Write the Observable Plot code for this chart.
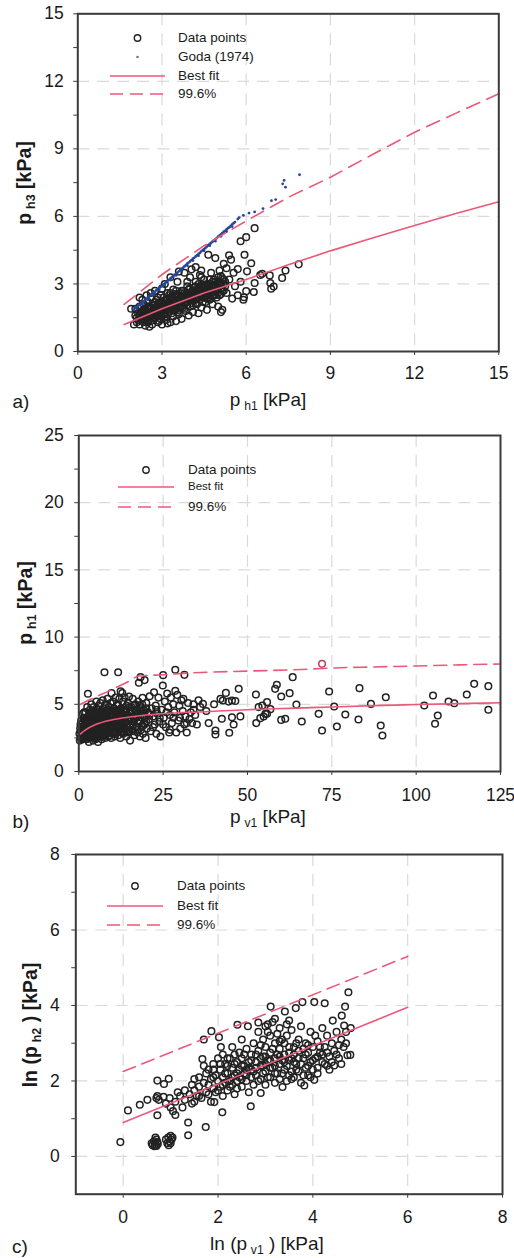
<!DOCTYPE html>
<html><head><meta charset="utf-8">
<script src="https://cdn.jsdelivr.net/npm/d3@7"></script>
<script src="https://cdn.jsdelivr.net/npm/@observablehq/plot@0.6"></script>
<style>
body{margin:0;background:#fff;font-family:"Liberation Sans",Arial,sans-serif;}
#page{position:relative;width:514px;height:1258px;overflow:hidden;background:#fff;}
.abs{position:absolute;white-space:nowrap;color:#1a1a1a;line-height:1;}
.rot{transform:translate(-50%,-50%) rotate(-90deg);font-weight:bold;font-size:19.5px;}
.xt{transform:translate(-50%,-50%);font-size:19px;}
.lt{transform:translateY(-50%);font-size:13.5px;}
sub{font-size:0.64em;vertical-align:-0.3em;}
</style></head><body><div id="page"></div>
<script>
// ---------- Panel a: p_h3 vs p_h1 ----------
const aXTicks = [0, 3, 6, 9, 12, 15];
const aYTicks = [0, 3, 6, 9, 12, 15];
const aYMinor = [1.5, 4.5, 7.5, 10.5, 13.5];
const aGrid = [3, 6, 9, 12];
const aData = [
[1.9,1.9],[2.0,1.2],[2.05,1.9],[2.1,1.5],[2.1,1.3],[2.15,1.7],[2.2,2.0],[2.2,1.2],[2.25,1.45],[2.05,1.6],
[2.3,2.3],[2.3,1.8],[2.3,1.35],[2.35,1.6],[2.35,2.1],[2.4,1.15],[2.4,1.9],[2.45,1.5],[2.45,2.5],[2.5,1.7],
[2.5,2.2],[2.5,1.3],[2.55,1.95],[2.55,1.1],[2.6,1.55],[2.6,2.4],[2.65,1.8],[2.65,1.2],[2.7,2.05],[2.7,1.4],
[2.75,2.7],[2.75,1.65],[2.8,1.9],[2.8,2.3],[2.85,1.3],[2.85,1.55],[2.9,2.15],[2.9,1.75],[2.95,2.5],[2.95,1.45],
[3.0,2.0],[3.0,1.2],[3.0,2.8],[3.05,1.65],[3.1,2.25],[3.1,1.9],[3.1,3.0],[3.15,1.4],[3.2,2.1],[3.2,2.6],
[3.25,1.75],[3.3,2.4],[3.3,1.3],[3.3,3.3],[3.35,2.0],[3.4,1.55],[3.4,2.75],[3.45,2.2],[3.5,1.35],[3.5,1.9],
[3.5,2.5],[3.55,3.1],[3.6,2.3],[3.6,1.65],[3.65,2.0],[3.7,2.7],[3.7,1.45],[3.75,2.45],[3.8,3.5],[3.8,2.15],
[3.85,1.8],[3.9,2.9],[3.9,2.4],[3.95,1.6],[4.0,2.6],[4.0,2.0],[4.0,3.3],[4.05,3.65],[4.1,2.3],[4.1,1.75],
[4.15,2.85],[4.2,2.5],[4.2,3.1],[4.25,2.1],[4.3,1.7],[4.3,2.7],[4.35,3.4],[4.4,2.4],[4.4,1.95],[4.45,2.95],
[4.5,2.6],[4.5,3.2],[4.55,2.2],[4.6,2.8],[4.6,1.85],[4.65,4.3],[4.7,2.5],[4.7,3.0],[4.75,3.5],[4.8,2.7],
[4.8,2.1],[4.85,3.2],[4.9,2.9],[4.9,4.15],[4.95,2.4],[5.0,3.1],[5.0,2.0],[5.05,3.6],[5.1,2.8],[5.1,3.35],
[5.15,1.85],[5.2,3.0],[5.2,3.9],[5.3,2.6],[5.3,3.7],[5.39,4.27],[5.46,4.08],[5.4,3.2],[5.5,2.35],[5.55,3.5],
[5.6,2.9],[5.7,3.66],[5.7,2.5],[5.8,4.9],[5.8,3.1],[5.9,2.3],[5.92,2.41],[6.0,5.08],[6.0,2.68],[6.03,3.56],
[6.18,3.92],[6.3,5.48],[6.3,3.04],[6.27,2.64],[6.5,3.4],[6.57,3.45],[6.84,3.38],[6.86,3.04],[6.98,2.89],[6.89,2.79],
[7.28,3.27],[7.4,3.6],[7.87,3.87],[5.94,4.3],[4.2,3.75],
[2.2,1.6],[2.3,1.55],[2.4,1.7],[2.4,1.4],[2.5,1.5],[2.5,1.9],[2.6,1.7],[2.6,1.95],[2.7,1.6],[2.7,1.8],
[2.8,1.7],[2.8,2.0],[2.9,1.9],[2.9,1.6],[3.0,1.8],[3.0,2.2],[3.1,1.7],[3.1,2.05],[3.2,1.9],[3.2,2.3],
[3.3,2.0],[3.3,2.2],[3.4,1.9],[3.4,2.35],[3.5,2.1],[3.5,2.3],[3.6,2.0],[3.6,2.5],[3.7,2.2],[3.7,2.4],
[3.8,2.3],[3.8,2.6],[3.9,2.2],[3.9,2.6],[4.0,2.4],[4.0,2.8],[4.1,2.5],[4.1,2.7],[4.2,2.3],[4.2,2.9],
[4.3,2.5],[4.3,3.0],[4.4,2.7],[4.4,2.9],[4.5,2.8],[4.5,2.4],[4.6,2.6],[4.6,3.0],[4.7,2.75],[4.7,3.2],
[4.8,2.9],[4.8,3.1],[4.9,2.7],[4.9,3.1],[5.0,2.8],[5.0,3.3],[5.1,3.0],[5.2,3.2],[5.2,2.7],[2.15,1.4],
[2.25,1.7],[2.35,1.3],[2.45,1.8],[2.55,1.6],[2.65,2.1],[2.75,1.5],[2.85,2.1],[2.95,1.7],[3.05,2.4],[3.15,1.85],
[3.25,2.15],[3.35,1.7],[3.45,2.55],[3.55,1.75],[3.65,2.6],[3.75,1.95],[3.85,2.5],[3.95,2.3],[4.05,2.15],[4.15,2.45],
[4.25,2.75],[4.35,2.55],[4.45,2.2],[4.55,2.9],[4.65,2.4],[4.75,2.85],[4.85,2.55],[4.95,3.0],[5.05,2.5],[5.15,3.25],
[5.25,2.9],[2.2,2.4],[2.6,2.6],[3.6,3.55],[4.4,3.6],[5.1,1.75],[3.2,1.25],[2.9,1.35],
[2.3,1.45],[2.35,1.85],[2.45,1.6],[2.55,1.75],[2.6,1.35],[2.65,1.65],[2.75,1.85],[2.75,2.2],[2.85,1.8],[2.85,2.4],
[2.95,1.95],[3.0,1.55],[3.05,2.1],[3.1,1.55],[3.15,2.3],[3.2,1.65],[3.25,2.5],[3.3,1.85],[3.35,2.45],[3.4,2.1],
[3.45,1.8],[3.5,2.7],[3.55,2.4],[3.6,1.85],[3.65,2.25],[3.7,2.0],[3.75,2.7],[3.8,1.9],[3.85,2.25],[3.9,2.05],
[3.95,2.75],[4.0,2.25],[4.05,2.45],[4.1,2.05],[4.15,2.65],[4.2,2.15],[4.25,2.35],[4.3,2.85],[4.35,2.3],[4.4,2.55],
[4.45,2.65],[4.5,2.95],[4.55,2.5],[4.6,2.35],[4.65,2.85],[4.7,2.3],[4.75,2.65],[4.8,2.45],[4.85,2.95],[4.9,2.5],
[4.95,2.75],[5.0,2.6],[5.05,2.95],[5.1,2.55],[5.15,2.7],[5.25,3.1],[3.3,2.6],[3.9,3.1],[4.4,3.3],[2.5,2.0]
];
const aGoda = [
[2.0,1.86],[2.05,1.95],[2.1,1.98],[2.15,2.02],[2.2,2.08],[2.25,2.12],[2.3,2.2],[2.35,2.22],[2.4,2.3],[2.45,2.35],
[2.5,2.38],[2.55,2.45],[2.6,2.5],[2.65,2.55],[2.7,2.6],[2.75,2.65],[2.8,2.72],[2.85,2.76],[2.9,2.82],[2.95,2.86],
[3.0,2.92],[3.05,2.98],[3.1,3.02],[3.15,3.08],[3.2,3.14],[3.25,3.18],[3.3,3.25],[3.35,3.3],[3.4,3.35],[3.45,3.4],
[3.5,3.46],[3.55,3.5],[3.6,3.56],[3.65,3.62],[3.7,3.68],[3.75,3.72],[3.8,3.78],[3.85,3.84],[3.9,3.9],[3.95,3.95],
[4.0,4.0],[4.05,4.06],[4.1,4.12],[4.15,4.16],[4.2,4.22],[4.25,4.28],[4.3,4.33],[4.35,4.38],[4.4,4.45],[4.45,4.5],
[4.5,4.55],[4.55,4.6],[4.6,4.66],[4.65,4.72],[4.7,4.78],[4.75,4.82],[4.8,4.88],[4.85,4.93],[4.9,4.98],[4.95,5.04],
[5.0,5.1],[5.05,5.15],[5.1,5.2],[5.15,5.26],[5.2,5.32],[5.25,5.36],[5.3,5.42],[5.35,5.48],[5.4,5.52],[5.45,5.58],
[5.5,5.64],[5.55,5.7],[5.6,5.75],[5.7,5.88],[5.75,5.95],[5.9,6.05],[6.1,6.15],[6.3,6.2],[6.6,6.35],[6.9,6.7],
[7.05,6.75],[7.3,7.45],[7.35,7.6],[7.4,7.3],[7.9,7.85],
[2.1,1.9],[2.3,2.1],[2.5,2.3],[2.7,2.52],[2.9,2.75],[3.1,2.95],[3.3,3.18],[3.5,3.38],[3.7,3.6],[3.9,3.82],
[4.1,4.04],[4.3,4.25],[4.5,4.47],[4.7,4.7],[4.9,4.9],[5.1,5.12],[5.3,5.33],[5.5,5.55]
];
const aFitX = [1.65, 3, 4.5, 6, 7.5, 9, 10.5, 12, 13.5, 15];
const aFitY = [1.2, 1.9, 2.6, 3.2, 3.85, 4.47, 5.04, 5.6, 6.14, 6.65];
const aUpX = [1.65, 3, 4.5, 6, 7.5, 9, 10.5, 12, 13.5, 15];
const aUpY = [2.09, 3.42, 4.7, 5.8, 6.85, 7.74, 8.75, 9.74, 10.6, 11.45];
const aLegend = ["Data points", "Goda (1974)", "Best fit", "99.6%"];

// ---------- Panel b: p_h1 vs p_v1 ----------
const bXTicks = [0, 25, 50, 75, 100, 125];
const bYTicks = [0, 5, 10, 15, 20, 25];
const bYMinor = [2.5, 7.5, 12.5, 17.5, 22.5];
const bXGrid = [25, 50, 75, 100];
const bYGrid = [5, 10, 15, 20];
const bData = [
[0.3,2.3],[0.5,2.5],[0.6,3.0],[0.8,2.8],[1.0,3.3],[1.0,2.4],[1.2,3.6],[1.4,2.9],[1.5,4.0],[1.6,3.2],
[1.8,2.6],[1.9,3.5],[2.0,4.4],[2.0,3.0],[2.2,3.8],[2.3,2.4],[2.4,3.3],[2.5,4.8],[2.6,3.6],[2.7,5.78],
[2.8,2.9],[2.9,4.1],[3.0,3.4],[3.0,2.2],[3.2,3.9],[3.3,4.6],[3.4,3.1],[3.5,2.6],[3.6,3.7],[3.7,5.0],
[3.8,4.3],[3.9,2.8],[4.0,3.5],[4.1,4.0],[4.2,2.3],[4.3,3.2],[4.4,4.8],[4.5,3.8],[4.6,2.9],[4.7,4.4],
[4.8,3.4],[4.9,2.5],[5.0,4.1],[5.1,3.0],[5.2,5.2],[5.3,3.6],[5.4,2.7],[5.5,4.6],[5.6,3.3],[5.7,2.2],
[5.8,3.9],[5.9,4.9],[6.0,3.1],[6.1,2.6],[6.2,4.3],[6.3,3.5],[6.4,5.1],[6.5,2.9],[6.6,3.8],[6.7,4.5],
[6.8,2.4],[6.9,3.3],[7.0,4.0],[7.1,5.3],[7.2,3.0],[7.3,2.7],[7.4,4.7],[7.5,3.6],[7.61,7.39],[7.7,4.2],
[7.8,2.5],[7.9,3.2],[8.0,5.0],[8.1,3.8],[8.2,2.8],[8.3,4.4],[8.4,3.4],[8.5,5.4],[8.6,3.0],[8.7,4.0],
[8.8,2.6],[8.9,4.8],[9.0,3.6],[9.1,3.1],[9.2,4.3],[9.3,2.9],[9.4,5.1],[9.5,3.8],[9.7,5.83],[9.6,2.5],
[9.8,4.5],[9.9,3.3],[10.0,4.1],[10.1,2.8],[10.2,5.2],[10.3,3.5],[10.4,4.7],[10.5,3.0],[10.6,3.9],[10.7,2.6],
[10.8,4.4],[10.9,5.5],[11.0,3.4],[11.1,4.2],[11.2,2.9],[11.3,4.9],[11.4,3.7],[11.66,7.39],[11.5,3.2],[11.6,5.0],
[11.7,2.7],[11.8,4.5],[11.9,3.9],[12.0,5.4],[12.1,3.3],[12.2,4.1],[12.4,5.97],[12.3,2.5],[12.5,4.7],[12.6,3.6],
[12.7,3.0],[12.9,5.83],[12.8,4.3],[13.0,3.8],[13.1,5.2],[13.2,2.8],[13.3,4.6],[13.4,3.4],[13.5,4.0],[13.6,5.5],
[13.7,3.1],[13.8,4.4],[14.0,3.7],[14.1,2.6],[14.2,4.9],[14.4,3.3],[14.5,4.2],[14.6,5.1],[14.7,2.9],[14.9,5.58],
[15.0,3.9],[15.1,4.5],[15.2,2.3],[15.4,3.5],[15.6,4.8],[15.8,3.1],[16.0,5.4],[16.1,4.1],[16.3,3.7],[16.5,2.7],
[16.6,4.6],[16.8,5.0],[17.0,3.3],[17.2,4.3],[17.4,2.9],[17.6,5.2],[17.8,6.6],[17.9,3.8],[18.0,4.9],[18.3,7.02],
[18.1,2.6],[18.4,4.2],[18.6,3.4],[18.8,5.0],[18.9,5.48],[19.0,2.8],[19.2,4.6],[19.4,3.6],[19.5,6.8],[19.6,4.0],
[19.8,2.5],[20.0,5.1],[20.2,3.2],[20.5,4.4],[20.8,3.9],[21.0,5.6],[21.3,3.0],[21.6,4.7],[22.0,4.1],[22.3,5.9],
[22.5,3.5],[22.8,4.9],[23.0,2.8],[23.3,4.3],[23.6,5.5],[23.9,3.7],[24.2,2.6],[24.5,4.6],[24.9,6.4],[25.0,7.17],
[25.2,4.0],[25.5,5.2],[25.8,3.3],[26.2,5.8],[26.5,4.8],[26.8,2.9],[27.0,4.2],[27.3,5.5],[27.6,3.6],[28.0,5.0],
[28.3,4.4],[28.6,7.57],[28.6,6.0],[28.9,2.9],[29.2,5.7],[29.5,3.8],[29.8,4.9],[30.1,3.2],[30.4,5.3],[30.8,4.5],
[31.0,5.4],[31.3,7.19],[31.3,3.5],[31.6,4.1],[32.0,2.9],[32.4,5.1],[32.8,3.9],[33.2,4.4],[33.6,3.6],[34.0,5.0],
[34.5,4.2],[35.0,3.5],[35.5,5.3],
[36,4.8],[36.8,5.03],[38.5,3.6],[37.8,4.5],[40.1,5.0],[40.5,3.05],[40.5,2.75],[42.4,3.92],[42,5.4],[42.7,5.28],
[43.6,5.85],[44.4,5.2],[45.4,5.28],[45.9,3.5],[44.6,2.88],[45.4,4.04],[46.4,5.25],[47.4,6.15],[47.9,4.1],[52.5,5.73],
[52.6,3.6],[53.3,4.79],[53.8,3.97],[54.4,4.91],[54.8,4.09],[55.3,4.29],[55.8,5.16],[55.8,4.3],[56.8,4.64],[58.2,6.15],
[58.7,6.45],[60,5.58],[60,3.84],[61.2,3.92],[62.5,5.83],[63.4,7.02],[64.5,4.99],[66.1,3.72],[71.1,4.29],[72.1,3.05],
[74.2,5.95],[75.7,4.84],[76.5,3.35],[79,4.24],[82.9,3.87],[83.2,6.2],[86.6,5.03],[89.5,3.42],[90,2.68],[91,5.53],
[102.4,4.91],[105,5.65],[105.6,3.55],[106.4,4.17],[109.6,5.21],[111.3,5.08],[115,5.73],[117.2,6.52],[121.4,6.35],[121.4,4.59],
[0.5,3.5],[1.0,2.8],[1.2,4.3],[1.5,2.5],[1.7,3.8],[2.1,3.2],[2.3,4.0],[2.6,2.7],[2.8,3.6],[3.1,4.4],
[3.3,2.6],[3.5,3.3],[3.8,3.0],[4.0,4.5],[4.2,3.7],[4.5,2.6],[4.7,3.6],[5.0,3.3],[5.3,4.3],[5.5,2.9],
[5.8,3.5],[6.0,4.6],[6.3,2.8],[6.5,4.1],[6.8,3.6],[7.0,2.6],[7.3,3.9],[7.6,3.3],[8.0,4.3],[8.3,2.9],
[8.6,3.7],[9.0,4.2],[9.4,3.4],[9.8,2.9],[10.2,3.8],[10.6,4.5],[11.0,2.8],[11.4,4.3],[11.8,3.5],[12.2,4.6],
[12.6,2.9],[13.0,4.3],[13.5,3.2],[14.0,4.6],[14.5,3.8],[15.0,3.0],[15.5,4.3],[16.0,3.4],[16.5,4.9],[17.0,4.0],
[17.5,3.6],[18.0,4.5],[18.5,3.1],[19.0,4.2],[19.5,3.5],[20.0,4.7],[2.0,2.7],[3.0,3.7],[4.0,3.1],[5.0,2.4],
[6.0,3.4],[7.0,4.4],[8.0,3.5],[9.0,2.7],[10.0,3.5],[11.0,4.0],[12.0,3.7],[13.0,3.5],[14.0,3.0],[15.0,4.8],
[0.2,2.8],[0.4,3.2],[0.7,3.8],[0.9,2.6],[1.1,3.0],[1.3,2.4],[1.4,3.4],[1.6,4.4],[1.8,3.0],[2.0,3.7],
[2.1,2.5],[2.3,3.5],[2.5,3.0],[2.7,4.0],[2.9,2.6],[3.1,3.2],[3.2,2.5],[3.4,3.8],[3.6,2.9],[3.7,4.2],
[3.9,3.3],[4.1,2.7],[4.3,3.9],[4.5,3.1],[4.6,4.2],[4.8,2.8],[5.0,3.7],[5.2,3.1],[5.4,4.0],[5.6,2.6],
[5.8,4.3],[6.0,3.7],[6.2,2.9],[6.4,3.3],[6.6,4.4],[6.8,3.0],[7.0,3.5],[7.2,4.1],[7.4,2.8],[7.6,3.9],
[7.8,3.4],[8.0,2.7],[8.2,3.9],[8.4,4.6],[8.6,3.3],[8.8,3.9],[9.0,3.2],[9.2,3.7],[9.4,4.5],[9.6,3.3],
[9.8,3.8],[10.0,2.9],[10.3,4.2],[10.6,3.3],[10.9,3.7],[11.2,4.5],[11.5,3.8],[11.8,3.0],[12.1,4.0],[12.4,3.4],
[12.7,4.2],[13.0,2.9],[13.3,3.9],[13.6,3.6],[14.0,4.2],[14.3,3.5],[14.6,4.0],[15.0,3.4],[15.4,4.0],[15.8,4.5],
[16.2,3.0],[16.6,3.9],[17.0,4.5],[17.5,3.1],[18.0,3.7],[18.5,4.7],[19.0,3.4],[19.5,4.4],[20.0,3.7],[21.0,4.2],
[22.0,3.3],[23.0,4.6],[24.0,4.0],[25.0,3.5],[26.0,4.4],[27.0,3.1],[28.0,4.0],[30.0,4.0],[32.0,3.6],[34.0,4.6]
];
const bRed = [[72.1, 8.01]];
const bFitX = [0.5, 2, 5, 10, 15, 20, 25, 37.5, 50, 62.5, 75, 87.5, 100, 112.5, 125];
const bFitY = [2.8, 3.1, 3.5, 3.85, 4.05, 4.2, 4.3, 4.45, 4.6, 4.7, 4.8, 4.9, 4.98, 5.05, 5.11];
const bUpX = [0.5, 5, 9, 14, 18, 25, 33, 50, 64, 75, 87.5, 100, 112.5, 125];
const bUpY = [5.0, 5.55, 6.0, 6.6, 7.1, 7.2, 7.33, 7.47, 7.57, 7.7, 7.78, 7.85, 7.93, 8.0];
const bLegend = ["Data points", "Best fit", "99.6%"];

// ---------- Panel c: ln(p_h2) vs ln(p_v1) ----------
const cXTicks = [0, 2, 4, 6, 8];
const cYTicks = [0, 2, 4, 6, 8];
const cYMinor = [1, 3, 5, 7];
const cGrid = [0, 2, 4, 6];
const cData = [
[0.6,0.35],[0.62,0.3],[0.65,0.4],[0.67,0.32],[0.7,0.45],[0.7,0.28],[0.72,0.38],[0.68,0.5],[0.66,0.27],[0.73,0.33],
[0.9,0.45],[0.93,0.35],[0.95,0.5],[0.98,0.4],[1.0,0.55],[1.02,0.45],[1.0,0.35],[1.04,0.5],[0.96,0.3],[-0.06,0.38],
[1.37,0.56],[1.74,0.78],[1.37,0.9],
[0.1,1.22],[0.35,1.37],[0.51,1.5],[0.72,2.01],[0.86,1.92],[0.96,2.06],[0.72,1.09],[0.7,1.55],[0.72,1.6],[0.75,1.5],[0.85,1.58],
[0.9,1.4],[1.0,1.3],[1.05,1.2],[1.1,1.1],[0.98,1.55],[1.1,1.45],[1.15,1.7],[1.2,1.6],
[1.25,1.3],[1.3,1.75],[1.3,1.5],[1.4,1.65],[1.45,1.9],[1.45,1.4],[1.5,1.75],[1.5,2.05],[1.55,1.6],
[1.6,1.85],[1.6,2.1],[1.65,1.55],[1.67,2.58],[1.7,3.1],[1.7,1.95],[1.75,2.2],[1.75,1.7],
[1.8,1.9],[1.8,2.3],[1.85,1.45],[1.86,3.32],[1.85,2.05],[1.9,1.8],[1.9,2.45],[1.92,1.44],[1.95,2.15],[1.95,1.7],
[2.0,2.0],[2.0,2.6],[2.02,3.16],[2.06,2.9],[2.05,1.85],[2.05,2.3],[2.09,1.17],[2.1,2.1],[2.1,1.6],[2.1,2.7],
[2.15,1.95],[2.15,2.45],[2.2,2.2],[2.2,1.75],[2.25,2.6],[2.25,2.0],[2.3,2.35],[2.3,1.9],[2.3,2.9],[2.35,2.15],
[2.35,1.65],[2.4,2.5],[2.41,3.49],[2.4,2.0],[2.45,2.75],[2.45,2.3],[2.5,1.85],[2.5,2.6],[2.5,3.1],[2.55,2.2],
[2.55,2.4],[2.6,2.0],[2.6,2.85],[2.63,3.45],[2.65,1.7],[2.65,2.5],[2.69,1.33],[2.7,2.3],[2.7,2.7],[2.75,1.9],
[2.75,3.0],[2.8,2.5],[2.8,2.15],[2.85,2.8],[2.85,3.3],[2.9,1.68],[2.9,2.4],[2.9,2.05],[2.95,2.65],[2.95,3.1],
[3.0,2.25],[3.0,2.9],[3.0,1.9],[3.05,3.3],[3.05,2.55],[3.1,2.1],[3.1,2.75],[3.11,3.97],[3.15,3.56],[3.15,2.35],
[3.2,3.0],[3.2,1.95],[3.2,2.6],[3.25,3.25],[3.25,2.2],[3.3,2.85],[3.3,2.45],[3.35,3.1],[3.36,1.84],[3.4,2.3],
[3.4,2.7],[3.41,3.84],[3.45,3.2],[3.45,2.0],[3.5,2.55],[3.5,2.9],[3.55,2.25],[3.55,3.35],[3.6,2.7],[3.6,2.1],
[3.64,3.93],[3.65,3.0],[3.65,2.45],[3.7,2.25],[3.7,2.8],[3.75,3.45],[3.75,1.95],[3.78,4.09],[3.8,2.6],[3.82,1.88],
[3.85,2.35],[3.85,3.0],[3.9,2.75],[3.9,2.15],[3.95,3.3],[3.95,2.5],[4.0,2.3],[4.0,2.9],[4.03,4.09],[4.03,2.03],
[4.05,2.6],[4.1,3.05],[4.1,2.35],[4.15,2.75],[4.2,2.5],[4.2,3.4],[4.25,4.06],[4.25,2.9],[4.3,2.4],[4.3,3.2],
[4.35,2.65],[4.4,3.0],[4.42,3.6],[4.45,2.41],[4.45,2.8],[4.5,3.3],[4.55,2.6],[4.6,3.1],[4.61,3.73],[4.66,3.47],
[4.68,3.97],[4.7,3.0],[4.73,2.68],[4.75,4.35],[4.79,2.69],[4.8,3.4],[4.7,3.3],
[2.2,2.4],[2.4,2.2],[2.6,2.3],[2.8,2.35],[2.9,2.6],[3.0,2.45],[3.1,2.55],[3.2,2.4],[3.3,2.65],[3.4,2.5],
[3.5,2.75],[3.6,2.5],[3.7,2.6],[3.8,2.85],[3.1,3.2],[3.3,3.05],[2.7,2.1],[2.5,2.05],[2.95,2.2],[3.35,2.2],
[3.55,2.05],[3.9,2.4],[4.1,2.65],[4.35,2.3],[4.55,2.95],[3.0,3.45],[3.2,3.65],[3.45,3.5],[2.35,2.7],[1.9,2.1],
[1.5,1.45],[1.6,1.6],[1.7,2.4],[1.8,1.65],[1.9,2.3],[2.0,1.75],[2.05,2.45],[2.1,1.9],[2.15,2.2],[2.2,2.6],
[2.25,1.85],[2.3,2.1],[2.35,2.45],[2.4,1.8],[2.45,2.1],[2.5,2.4],[2.55,2.7],[2.6,2.15],[2.65,2.35],[2.7,2.55],
[2.75,2.25],[2.8,2.7],[2.85,2.0],[2.9,2.95],[2.95,2.4],[3.0,2.65],[3.05,2.1],[3.1,2.35],[3.15,2.85],[3.2,2.2],
[3.25,2.7],[3.3,2.05],[3.35,2.55],[3.4,3.0],[3.45,2.4],[3.5,2.15],[3.55,2.6],[3.6,2.9],[3.65,2.3],[3.7,3.1],
[3.75,2.45],[3.8,2.15],[3.85,2.7],[3.9,2.95],[3.95,2.1],[4.0,2.55],[4.05,3.2],[4.1,2.2],[4.15,2.9],[4.2,2.7],
[4.25,2.45],[4.3,2.75],[4.4,2.5],[4.5,2.7],[4.6,2.45],[4.65,2.9],[3.05,3.5],[2.85,3.55],[3.3,3.4],[3.5,3.6]
];
const cFitX = [0, 6];
const cFitY = [0.9, 3.95];
const cUpX = [0, 6];
const cUpY = [2.25, 5.3];
const cLegend = ["Data points", "Best fit", "99.6%"];

// ---------- drawing ----------
const FONT = "Liberation Sans, Arial, sans-serif";
const PINK = "#ec5878";
const INK = "#222";
const GRIDC = "#dadada";
const TICKFS = 17.5;
const page = document.getElementById("page");
const pts = a => a.map(d => ({x: d[0], y: d[1]}));
const zip = (xs, ys) => xs.map((x, i) => ({x, y: ys[i]}));

function panel(o) {
  const svg = Plot.plot({
    width: 514, height: o.height,
    marginTop: o.mt, marginRight: o.mr, marginBottom: o.mb, marginLeft: o.ml,
    style: {fontFamily: FONT, fontSize: TICKFS + "px", color: "#1a1a1a", background: "white", overflow: "visible"},
    x: {domain: o.xDomain, label: null},
    y: {domain: o.yDomain, label: null},
    marks: [
      Plot.gridX(o.xGrid, {stroke: GRIDC, strokeOpacity: 1, strokeWidth: 1.2, strokeDasharray: "12,8"}),
      Plot.gridY(o.yGrid, {stroke: GRIDC, strokeOpacity: 1, strokeWidth: 1.2, strokeDasharray: "12,8"}),
      ...o.marks,
      Plot.frame({stroke: "#3a3a3a", strokeWidth: 2}),
      Plot.axisX(o.xTicks, {tickSize: 4, tickPadding: o.xPad, label: null, fontSize: TICKFS, stroke: "#3a3a3a"}),
      Plot.axisY(o.yTicks, {tickSize: 4, tickPadding: o.yPad, label: null, fontSize: TICKFS, stroke: "#3a3a3a"}),
      Plot.axisY(o.yMinor, {tickSize: 4, tickFormat: () => "", label: null, stroke: "#3a3a3a"})
    ]
  });
  svg.style.position = "absolute";
  svg.style.left = "0px";
  svg.style.top = o.top + "px";
  page.appendChild(svg);
}

const dotsOpts = {x: "x", y: "y", r: 3.3, stroke: INK, strokeWidth: 1.5, fill: "none"};

panel({
  top: 0, height: 420, mt: 13.3, mr: 15.7, mb: 69, ml: 77.3,
  xDomain: [aXTicks[0], aXTicks[aXTicks.length - 1]], yDomain: [aYTicks[0], aYTicks[aYTicks.length - 1]],
  xGrid: aGrid, yGrid: aGrid, xTicks: aXTicks, yTicks: aYTicks, yMinor: aYMinor, xPad: 11, yPad: 10,
  marks: [
    Plot.dot(pts(aData), dotsOpts),
    Plot.dot(pts(aGoda), {x: "x", y: "y", r: 1.4, fill: "#27479a"}),
    Plot.line(zip(aFitX, aFitY), {x: "x", y: "y", stroke: PINK, strokeWidth: 1.6}),
    Plot.line(zip(aUpX, aUpY), {x: "x", y: "y", stroke: PINK, strokeWidth: 1.6, strokeDasharray: "14,8"})
  ]
});

panel({
  top: 420, height: 410, mt: 15, mr: 14, mb: 59, ml: 78.3,
  xDomain: [bXTicks[0], bXTicks[bXTicks.length - 1]], yDomain: [bYTicks[0], bYTicks[bYTicks.length - 1]],
  xGrid: bXGrid, yGrid: bYGrid, xTicks: bXTicks, yTicks: bYTicks, yMinor: bYMinor, xPad: 13, yPad: 11,
  marks: [
    Plot.dot(pts(bData), dotsOpts),
    Plot.dot(pts(bRed), {...dotsOpts, stroke: "#b2455a"}),
    Plot.line(zip(bFitX, bFitY), {x: "x", y: "y", stroke: PINK, strokeWidth: 1.6, curve: "monotone-x"}),
    Plot.line(zip(bUpX, bUpY), {x: "x", y: "y", stroke: PINK, strokeWidth: 1.6, strokeDasharray: "13,7", curve: "monotone-x"})
  ]
});

panel({
  top: 830, height: 428, mt: 24, mr: 12, mb: 64.3, ml: 75.3,
  xDomain: [-1, cXTicks[cXTicks.length - 1]], yDomain: [-1, cYTicks[cYTicks.length - 1]],
  xGrid: cGrid, yGrid: cGrid, xTicks: cXTicks, yTicks: cYTicks, yMinor: cYMinor, xPad: 12, yPad: 12,
  marks: [
    Plot.dot(pts(cData), dotsOpts),
    Plot.line(zip(cFitX, cFitY), {x: "x", y: "y", stroke: PINK, strokeWidth: 1.6}),
    Plot.line(zip(cUpX, cUpY), {x: "x", y: "y", stroke: PINK, strokeWidth: 1.6, strokeDasharray: "13,7"})
  ]
});

// ---------- text overlays ----------
function txt(html, cls, left, top, extra) {
  const d = document.createElement("div");
  d.className = "abs " + cls;
  d.innerHTML = html;
  d.style.left = left + "px";
  d.style.top = top + "px";
  if (extra) Object.assign(d.style, extra);
  page.appendChild(d);
}
txt("p&#8201;<sub>h3</sub> [kPa]", "rot", 26, 183);
txt("p&#8201;<sub>h1</sub> [kPa]", "xt", 268, 401);
txt("a)", "xt", 21, 401);
txt("p&#8201;<sub>h1</sub> [kPa]", "rot", 27, 603);
txt("p&#8201;<sub>v1</sub> [kPa]", "xt", 268, 818);
txt("b)", "xt", 21, 821);
txt("ln (p&#8201;<sub>h2</sub> ) [kPa]", "rot", 32, 1025);
txt("ln (p&#8201;<sub>v1</sub> ) [kPa]", "xt", 267, 1245);
txt("c)", "xt", 20, 1246);

// ---------- legends ----------
const NS = "http://www.w3.org/2000/svg";
function sym(kind, x0, x1, y) {
  const s = document.createElementNS(NS, "svg");
  s.setAttribute("width", 514); s.setAttribute("height", 20);
  s.style.position = "absolute"; s.style.left = "0px"; s.style.top = (y - 10) + "px";
  const mid = (x0 + x1) / 2;
  if (kind === "circle") {
    s.innerHTML = `<circle cx="${mid}" cy="10" r="3.2" fill="none" stroke="${INK}" stroke-width="1.4"/>`;
  } else if (kind === "dot") {
    s.innerHTML = `<circle cx="${mid}" cy="10" r="1.3" fill="#777"/>`;
  } else if (kind === "solid") {
    s.innerHTML = `<line x1="${x0}" x2="${x1}" y1="10" y2="10" stroke="${PINK}" stroke-width="1.6"/>`;
  } else if (kind === "dashed") {
    s.innerHTML = `<line x1="${x0}" x2="${x1}" y1="10" y2="10" stroke="${PINK}" stroke-width="1.6" stroke-dasharray="13,7"/>`;
  }
  page.appendChild(s);
}
// panel a legend
const aKinds = ["circle", "dot", "solid", "dashed"];
const aRows = [38, 57, 75.5, 94];
aLegend.forEach((t, i) => { sym(aKinds[i], 110, 165, aRows[i]); txt(t, "lt", 178, aRows[i]); });
// panel b legend
const bKinds = ["circle", "solid", "dashed"];
const bRows = [470, 487, 507];
bLegend.forEach((t, i) => {
  sym(bKinds[i], 118, 174, bRows[i]);
  txt(t, "lt", 188, bRows[i], i === 1 ? {fontSize: "11.5px"} : null);
});
// panel c legend
const cKinds = ["circle", "solid", "dashed"];
const cRows = [886, 906, 925];
cLegend.forEach((t, i) => { sym(cKinds[i], 107, 163, cRows[i]); txt(t, "lt", 177, cRows[i]); });
</script></body></html>
